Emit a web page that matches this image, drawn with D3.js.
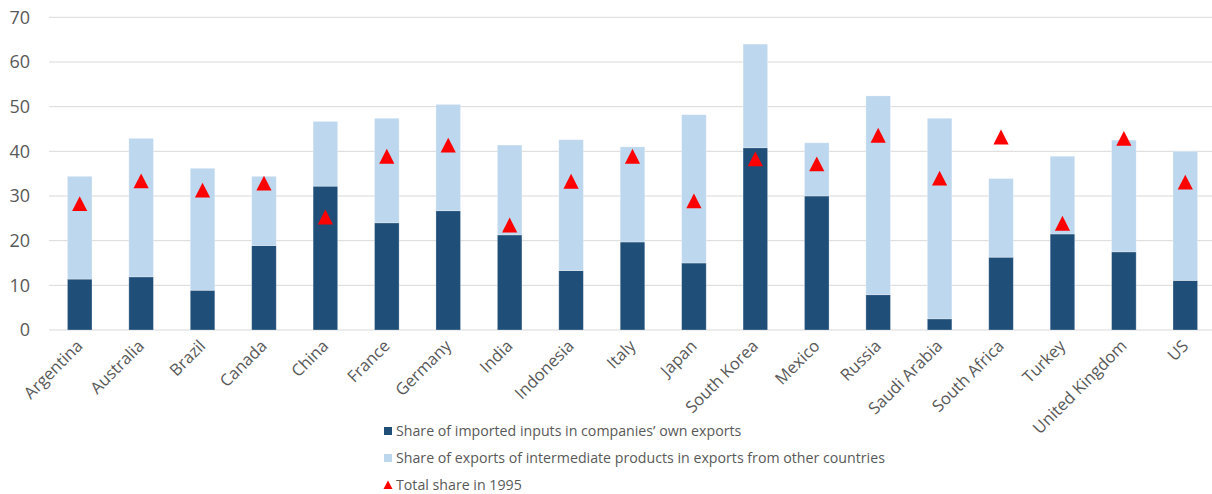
<!DOCTYPE html>
<html>
<head>
<meta charset="utf-8">
<script src="https://cdn.jsdelivr.net/npm/d3@7"></script>
<style>
  body { margin: 0; background: #fff; }
  text { font-family: "Open Sans", sans-serif; fill: #595959; }
</style>
</head>
<body>
<div id="chart"></div>
<script>
const countries = ["Argentina", "Australia", "Brazil", "Canada", "China", "France", "Germany", "India",
  "Indonesia", "Italy", "Japan", "South Korea", "Mexico", "Russia", "Saudi Arabia", "South Africa",
  "Turkey", "United Kingdom", "US"];
const ownImports = [11.4, 11.9, 8.9, 18.9, 32.2, 24.0, 26.7, 21.3, 13.3, 19.7, 15.0, 40.8, 30.0, 7.9, 2.5, 16.3, 21.5, 17.5, 11.1];
const otherExports = [23.0, 31.0, 27.3, 15.5, 14.5, 23.4, 23.8, 20.1, 29.3, 21.3, 33.2, 23.2, 11.9, 44.5, 44.9, 17.6, 17.4, 25.0, 28.9];
const total1995 = [28.3, 33.4, 31.3, 32.9, 25.3, 38.9, 41.4, 23.5, 33.3, 38.9, 28.9, 38.3, 37.2, 43.6, 34.0, 43.2, 23.9, 42.9, 33.1];
const yTicks = [0, 10, 20, 30, 40, 50, 60, 70];
const seriesNames = ["Share of imported inputs in companies\u2019 own exports",
  "Share of exports of intermediate products in exports from other countries",
  "Total share in 1995"];
const colors = ["#1F4E79", "#BDD7EE", "#FF0000"];

const width = 1212, height = 494;
const svg = d3.select("#chart").append("svg")
  .attr("width", width).attr("height", height);

const x = d3.scaleBand().domain(countries).range([49, 1216]).paddingInner(0.6).paddingOuter(0.3);
const y = d3.scaleLinear().domain([0, 70]).range([330, 17.3]);

// gridlines
svg.append("g").selectAll("line").data(yTicks).join("line")
  .attr("x1", 49).attr("x2", width)
  .attr("y1", d => y(d)).attr("y2", d => y(d))
  .attr("stroke", "#D9D9D9").attr("stroke-width", 1);

// y axis labels
svg.append("g").selectAll("text").data(yTicks).join("text")
  .attr("x", 30).attr("y", d => y(d)).attr("dy", "0.35em")
  .attr("text-anchor", "end").style("font-size", "18px")
  .text(d => d);

// stacked bars
const rows = countries.map((c, i) => ({country: c, own: ownImports[i], other: otherExports[i]}));
const stacked = d3.stack().keys(["own", "other"])(rows);
svg.append("g").selectAll("g").data(stacked).join("g")
  .attr("fill", (d, i) => colors[i])
  .selectAll("rect").data(d => d).join("rect")
  .attr("x", d => x(d.data.country))
  .attr("width", x.bandwidth())
  .attr("y", d => y(d[1]))
  .attr("height", d => y(d[0]) - y(d[1]))
  .attr("stroke", "rgba(255,255,255,0.35)").attr("stroke-width", 0.8);

// 1995 markers
const tri = "M0,-7.4L7.6,7.4L-7.6,7.4Z";
svg.append("g").selectAll("path").data(total1995).join("path")
  .attr("d", tri)
  .attr("transform", (d, i) => `translate(${x(countries[i]) + x.bandwidth() / 2},${y(d)})`)
  .attr("fill", colors[2]);

// x axis labels
svg.append("g").selectAll("text").data(countries).join("text")
  .attr("text-anchor", "end")
  .attr("transform", d => `translate(${x(d) + x.bandwidth() / 2 + 4},${347}) rotate(-45)`)
  .style("font-size", "16.5px")
  .text(d => d);

// legend
const legend = svg.append("g").attr("transform", "translate(384,0)");
const ly = [431, 458, 485];
legend.selectAll("rect").data([0, 1]).join("rect")
  .attr("x", 0).attr("y", i => ly[i] - 4).attr("width", 8).attr("height", 8)
  .attr("fill", i => colors[i]);
legend.append("path")
  .attr("d", "M0,-4.5L4.5,4L-4.5,4Z")
  .attr("transform", `translate(4,${ly[2]})`)
  .attr("fill", colors[2]);
legend.selectAll("text").data(seriesNames).join("text")
  .attr("x", 12).attr("y", (d, i) => ly[i]).attr("dy", "0.35em")
  .style("font-size", "14.2px")
  .text(d => d);
</script>
</body>
</html>
